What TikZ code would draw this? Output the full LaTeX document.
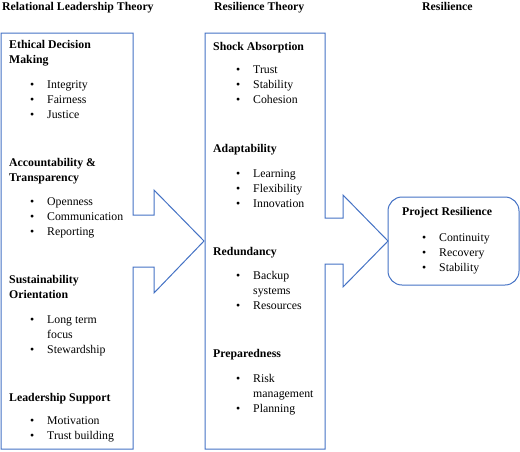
\documentclass[tikz,border=0pt]{standalone}
\usepackage{fontspec}
\setmainfont{Liberation Serif}
\usepackage{tikz}
\definecolor{frame}{HTML}{4472C4}
\newcommand{\bul}{\makebox[17pt][l]{\textbullet}}
\newcommand{\ind}{\hspace{17pt}}

\begin{document}
\begin{tikzpicture}[x = 1pt, y = -1pt, txt/.style = {inner sep = 0pt, anchor = base west, font = \fontsize{11.8}{15.3}\selectfont}, hd/.style = {txt, font = \fontsize{11.8}{15.3}\selectfont\bfseries}, box/.style = {draw = frame, line width = 1pt, line join = miter}]
        \useasboundingbox (0,0) rectangle (520,451);

        % column titles
        \node [hd] (t1) at (2, 10) {Relational Leadership Theory};
        \node [hd] (t2) at (214, 10) {Resilience Theory};
        \node [hd] (t3) at (422, 10) {Resilience};

        % outlines
        \draw [box] (1,33) -- (133,33) -- (133,215) -- (154,215) -- (154,190) -- (204,241) -- (154,293) -- (154,267) -- (133,267) -- (133,449) -- (1,449) -- cycle;
        \draw [box] (205,33) -- (325,33) -- (325,218) -- (343,218) -- (343,195) -- (388,241) -- (343,287) -- (343,264) -- (325,264) -- (325,449) -- (205,449) -- cycle;
        \draw [box, rounded corners = 14pt] (388,197) rectangle (519,285);

        % relational leadership
        \node [hd] (eth) at (9, 48) {\begin{tabular}[t]{@{}l@{}}Ethical Decision\\Making\end{tabular}};
        \node [txt] (eth-i) at (30, 88) {\begin{tabular}[t]{@{}l@{}}\bul Integrity\\\bul Fairness\\\bul Justice\end{tabular}};
        \node [hd] (acc) at (9, 166) {\begin{tabular}[t]{@{}l@{}}Accountability \&\\Transparency\end{tabular}};
        \node [txt] (acc-i) at (30, 205) {\begin{tabular}[t]{@{}l@{}}\bul Openness\\\bul Communication\\\bul Reporting\end{tabular}};
        \node [hd] (sus) at (9, 283) {\begin{tabular}[t]{@{}l@{}}Sustainability\\Orientation\end{tabular}};
        \node [txt] (sus-i) at (30, 323) {\begin{tabular}[t]{@{}l@{}}\bul Long term\\\ind focus\\\bul Stewardship\end{tabular}};
        \node [hd] (sup) at (9, 401) {Leadership Support};
        \node [txt] (sup-i) at (30, 424) {\begin{tabular}[t]{@{}l@{}}\bul Motivation\\\bul Trust building\end{tabular}};

        % resilience theory
        \node [hd] (sho) at (213, 50) {Shock Absorption};
        \node [txt] (sho-i) at (236, 73) {\begin{tabular}[t]{@{}l@{}}\bul Trust\\\bul Stability\\\bul Cohesion\end{tabular}};
        \node [hd] (ada) at (213, 152) {Adaptability};
        \node [txt] (ada-i) at (236, 177) {\begin{tabular}[t]{@{}l@{}}\bul Learning\\\bul Flexibility\\\bul Innovation\end{tabular}};
        \node [hd] (red) at (213, 255) {Redundancy};
        \node [txt] (red-i) at (236, 279) {\begin{tabular}[t]{@{}l@{}}\bul Backup\\\ind systems\\\bul Resources\end{tabular}};
        \node [hd] (pre) at (213, 357) {Preparedness};
        \node [txt] (pre-i) at (236, 382) {\begin{tabular}[t]{@{}l@{}}\bul Risk\\\ind management\\\bul Planning\end{tabular}};

        % resilience
        \node [hd] (pro) at (402, 215) {Project Resilience};
        \node [txt] (pro-i) at (422, 241) {\begin{tabular}[t]{@{}l@{}}\bul Continuity\\\bul Recovery\\\bul Stability\end{tabular}};
\end{tikzpicture}
\end{document}
